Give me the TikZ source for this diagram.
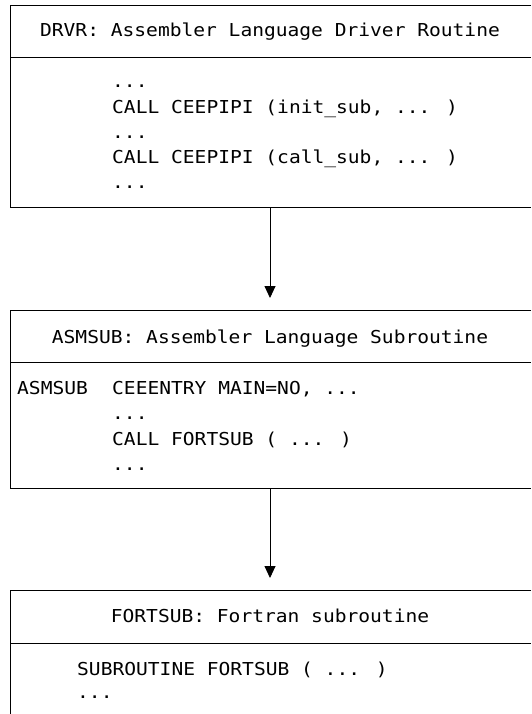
\documentclass[tikz,border=0pt]{standalone}
\usepackage{fontspec}
\newfontfamily\codefont[FakeStretch=1.1]{DejaVu Sans Mono}
\usetikzlibrary{arrows.meta}
\tikzset{
  code/.style={anchor=base west, inner sep=0pt, font=\codefont\fontsize{17.8}{21}\selectfont},
  head/.style={code, anchor=base},
  rule/.style={line width=0.9pt},
  call/.style={rule, -{Triangle[length=12pt,width=11pt]}, shorten >=12pt},
}
\begin{document}
\begin{tikzpicture}[x=1pt, y=-1pt]
\useasboundingbox (0,0) rectangle (531,714);

% driver routine
\draw[rule] (531,5) -- (10,5) -- (10,207) -- (531,207);
\draw[rule] (10,57) -- (531,57);
\node[head] (drvrhead) at (270,37) {DRVR: Assembler Language Driver Routine};
\node[code] (drvr1) at (112,88) {...};
\node[code] (drvr2) at (112,114) {CALL CEEPIPI (init\_sub, ... )};
\node[code] (drvr3) at (112,139) {...};
\node[code] (drvr4) at (112,164) {CALL CEEPIPI (call\_sub, ... )};
\node[code] (drvr5) at (112,189) {...};
\coordinate (drvrout) at (270,207);

% assembler subroutine
\draw[rule] (531,310) -- (10,310) -- (10,488) -- (531,488);
\draw[rule] (10,362) -- (531,362);
\node[head] (asmhead) at (270,343) {ASMSUB: Assembler Language Subroutine};
\node[code] (asmlabel) at (17,394) {ASMSUB};
\node[code] (asm1) at (112,394) {CEEENTRY MAIN=NO, ...};
\node[code] (asm2) at (112,419) {...};
\node[code] (asm3) at (112,445) {CALL FORTSUB ( ... )};
\node[code] (asm4) at (112,470) {...};
\coordinate (asmin) at (270,310);
\coordinate (asmout) at (270,488);

% fortran subroutine
\draw[rule] (531,590) -- (10,590) -- (10,714);
\draw[rule] (10,643) -- (531,643);
\node[head] (forthead) at (270,622) {FORTSUB: Fortran subroutine};
\node[code] (fort1) at (77,675) {SUBROUTINE FORTSUB ( ... )};
\node[code] (fort2) at (77,698) {...};
\coordinate (fortin) at (270,590);

\draw[call] (drvrout) -- (asmin);
\draw[call] (asmout) -- (fortin);
\end{tikzpicture}
\end{document}
